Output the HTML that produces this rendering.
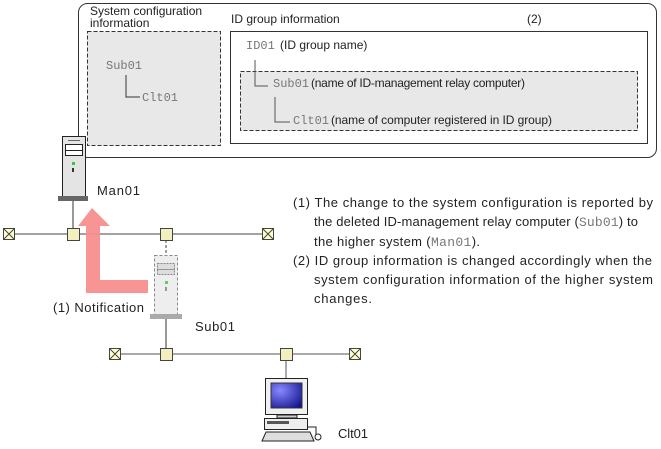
<!DOCTYPE html>
<html><head><meta charset="utf-8"><style>
html,body{margin:0;padding:0;background:#fff;}
svg{display:block;font-family:"Liberation Sans",sans-serif;}
.m{font-family:"Liberation Mono",monospace;fill:#777;}
</style></head><body>
<svg width="661" height="449" viewBox="0 0 661 449" xmlns="http://www.w3.org/2000/svg">
<rect x="78.5" y="3.5" width="578" height="154" rx="9" fill="#fff" stroke="#333"/>
<text x="90" y="15" font-size="12" fill="#222">System configuration</text>
<text x="90" y="27" font-size="12" fill="#222">information</text>
<rect x="87.5" y="31.5" width="133" height="114" fill="#e8e8e8" stroke="#333" stroke-dasharray="4,2"/>
<text x="106" y="69" font-size="12" class="m">Sub01</text>
<path d="M126 75 V97 H140" fill="none" stroke="#333"/>
<text x="142" y="101" font-size="12" class="m">Clt01</text>
<text x="231" y="23" font-size="12" fill="#222">ID group information</text>
<text x="527" y="23" font-size="12" fill="#222">(2)</text>
<rect x="230.5" y="31.5" width="417" height="112" fill="#fff" stroke="#333"/>
<text x="246" y="49" font-size="12" class="m">ID01</text>
<text x="280" y="49" font-size="12" fill="#222">(ID group name)</text>
<rect x="240.5" y="71.5" width="397" height="59" fill="#e8e8e8" stroke="#333" stroke-dasharray="4,2"/>
<path d="M255 60 V86 H268" fill="none" stroke="#555"/>
<text x="273" y="87" font-size="12" class="m">Sub01</text>
<text x="311" y="87" font-size="12" fill="#222" textLength="214">(name of ID-management relay computer)</text>
<path d="M275 97 V122 H290" fill="none" stroke="#555"/>
<text x="293" y="124" font-size="12" class="m">Clt01</text>
<text x="331" y="124" font-size="12" fill="#222" textLength="221">(name of computer registered in ID group)</text>
<line x1="73" y1="200" x2="73" y2="234" stroke="#333"/>
<line x1="14" y1="234" x2="268" y2="234" stroke="#444"/>
<line x1="166" y1="240" x2="166" y2="255" stroke="#444" stroke-dasharray="3,2"/>
<g stroke="#444" fill="#ffffcc">
<rect x="3.5" y="228.5" width="11" height="11"/><path d="M3.5 228.5 L14.5 239.5 M14.5 228.5 L3.5 239.5" fill="none"/>
<rect x="262.5" y="228.5" width="11" height="11"/><path d="M262.5 228.5 L273.5 239.5 M273.5 228.5 L262.5 239.5" fill="none"/>
<rect x="67.5" y="228.5" width="12" height="12" fill="#f3f0c0"/>
<rect x="160.5" y="228.5" width="12" height="12" fill="#f3f0c0"/>
</g>
<rect x="62.5" y="136.5" width="23" height="60" fill="#e4e4e4" stroke="#222"/>
<line x1="68" y1="140.5" x2="80" y2="140.5" stroke="#666"/>
<rect x="65.5" y="144.5" width="17" height="6" fill="#fff" stroke="#222"/>
<rect x="65.5" y="150.5" width="17" height="5" fill="#fff" stroke="#222"/>
<rect x="72" y="162" width="3" height="3" fill="#3c3"/>
<rect x="72" y="168" width="2" height="4" fill="#333"/>
<rect x="58" y="196" width="30" height="5" fill="#666"/>
<text x="97" y="195" font-size="13" fill="#222" textLength="43">Man01</text>
<path d="M86 226 H78 L92 208 L110 226 H100 V280 H148 V293 H86 Z" fill="#f78f8f" opacity="0.95"/>
<text x="53" y="312" font-size="13" fill="#222" textLength="91">(1) Notification</text>
<rect x="154.5" y="255.5" width="23" height="60" fill="#eee" stroke="#888" stroke-dasharray="3,2"/>
<rect x="157.5" y="263.5" width="17" height="6" fill="#ddd" stroke="#888" stroke-dasharray="2,1"/>
<rect x="157.5" y="269.5" width="17" height="5" fill="#ddd" stroke="#888" stroke-dasharray="2,1"/>
<rect x="165" y="281" width="3" height="3" fill="#6c6"/>
<rect x="165" y="287" width="2" height="4" fill="#999"/>
<rect x="150" y="314" width="32" height="5" fill="#aaa"/>
<text x="195" y="331" font-size="13" fill="#222" textLength="40">Sub01</text>
<line x1="166" y1="319" x2="166" y2="354" stroke="#333"/>
<line x1="115" y1="354" x2="355" y2="354" stroke="#555"/>
<line x1="286" y1="360" x2="286" y2="378" stroke="#555"/>
<g stroke="#444" fill="#ffffcc">
<rect x="109.5" y="348.5" width="11" height="11"/><path d="M109.5 348.5 L120.5 359.5 M120.5 348.5 L109.5 359.5" fill="none"/>
<rect x="349.5" y="348.5" width="11" height="11"/><path d="M349.5 348.5 L360.5 359.5 M360.5 348.5 L349.5 359.5" fill="none"/>
<rect x="160.5" y="348.5" width="12" height="12" fill="#f3f0c0"/>
<rect x="280.5" y="348.5" width="12" height="12" fill="#f3f0c0"/>
</g>
<defs><radialGradient id="sc" cx="0.3" cy="0.3" r="0.9"><stop offset="0" stop-color="#8888ff"/><stop offset="1" stop-color="#10108a"/></radialGradient></defs>
<rect x="265.5" y="378.5" width="42" height="36" fill="#f0f0f0" stroke="#222"/>
<rect x="271" y="383" width="31" height="25" fill="url(#sc)" stroke="#333"/>
<rect x="277" y="415" width="20" height="3" fill="#ccc" stroke="#222"/>
<rect x="264.5" y="418.5" width="43" height="11" fill="#eee" stroke="#222"/>
<rect x="267" y="421" width="22" height="3" fill="#555"/>
<path d="M262 441 L266 432 H310 L314 441 Z" fill="#ddd" stroke="#222"/>
<path d="M307 427 H316 V435" fill="none" stroke="#222"/>
<circle cx="318" cy="437" r="3" fill="#fff" stroke="#222"/>
<text x="338" y="438" font-size="13" fill="#222" textLength="30">Clt01</text>
<g font-size="13" fill="#222">
<text x="293" y="207" textLength="360">(1) The change to the system configuration is reported by</text>
<text x="314" y="226" textLength="324">the deleted ID-management relay computer (<tspan class="m">Sub01</tspan>) to</text>
<text x="314" y="246" textLength="166">the higher system (<tspan class="m">Man01</tspan>).</text>
<text x="293" y="265" textLength="359">(2) ID group information is changed accordingly when the</text>
<text x="314" y="284" textLength="339">system configuration information of the higher system</text>
<text x="314" y="303" textLength="58">changes.</text>
</g>
</svg>
</body></html>
